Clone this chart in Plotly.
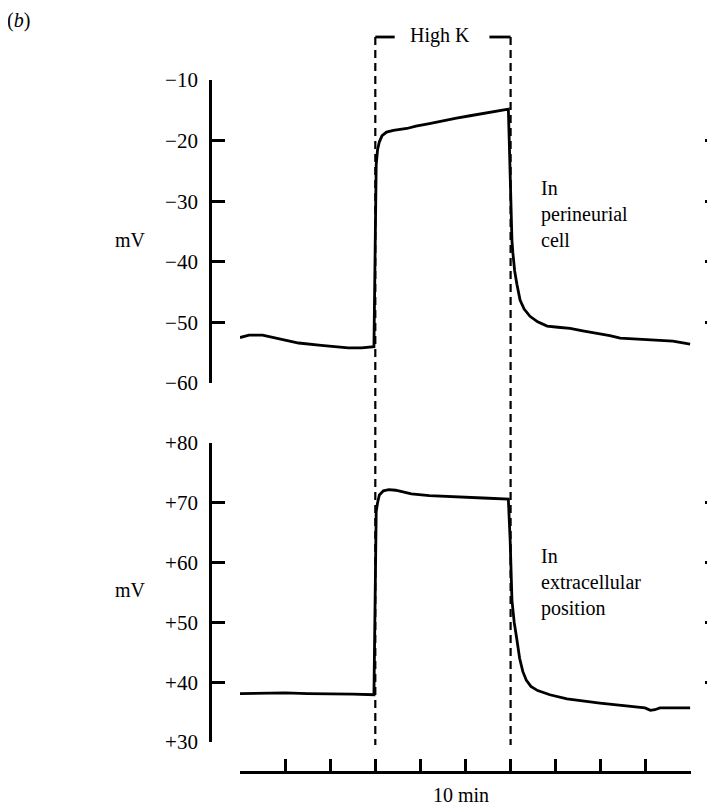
import plotly.graph_objects as go

# ---------------- data (time in min, potential in mV) ----------------
t_cell = [0, 0.2, 0.5, 0.75, 1.0, 1.3, 1.8, 2.4, 2.7, 2.97,
          3.02, 3.05, 3.09, 3.15, 3.25, 3.4, 3.7, 3.9, 4.2, 4.5, 4.8, 5.1, 5.4, 5.7, 5.95,
          5.97, 6.0, 6.03, 6.05, 6.09, 6.14, 6.21, 6.3, 6.43, 6.6, 6.81, 7.05, 7.32, 7.6,
          7.92, 8.2, 8.43, 8.7, 9.02, 9.3, 9.6, 9.98]
v_cell = [-52.5, -52.1, -52.1, -52.5, -53.0, -53.4, -53.8, -54.2, -54.2, -54.0,
          -24.0, -21.5, -20.2, -19.2, -18.6, -18.3, -18.0, -17.6, -17.2, -16.7, -16.3, -15.9, -15.5, -15.1, -14.8,
          -20.0, -30.0, -36.5, -38.5, -41.5, -43.7, -46.3, -47.8, -49.0, -49.9, -50.6, -50.8, -51.0, -51.4,
          -51.8, -52.2, -52.6, -52.7, -52.8, -52.9, -53.1, -53.6]

t_extra = [0, 0.5, 1.0, 1.5, 2.0, 2.5, 2.97,
           3.02, 3.05, 3.09, 3.18, 3.3, 3.45, 3.6, 3.8, 4.2, 4.66, 5.0, 5.39, 5.95,
           5.99, 6.03, 6.08, 6.14, 6.2, 6.27, 6.35, 6.45, 6.6, 6.87, 7.25, 7.98, 8.65, 8.98,
           9.1, 9.2, 9.31, 9.98]
v_extra = [38.1, 38.2, 38.2, 38.1, 38.1, 38.0, 37.9,
           68.5, 70.0, 71.3, 72.0, 72.2, 72.1, 71.8, 71.5, 71.2, 71.0, 70.9, 70.8, 70.6,
           63.8, 53.7, 50.0, 47.1, 44.0, 41.8, 40.3, 39.3, 38.6, 37.9, 37.2, 36.5, 36.0, 35.7,
           35.3, 35.4, 35.7, 35.7]

top_ticks = [-60, -50, -40, -30, -20, -10]
top_ticktext = ["\u221260", "\u221250", "\u221240", "\u221230", "\u221220", "\u221210"]
bot_ticks = [30, 40, 50, 60, 70, 80]
bot_ticktext = ["+30", "+40", "+50", "+60", "+70", "+80"]
time_ticks = list(range(0, 11))
high_k_start, high_k_end = 3, 6

label_cell = "In<br>perineurial<br>cell"
label_extra = "In<br>extracellular<br>position"

# ---------------- figure ----------------
W, H = 715, 806
OFF = 8  # default page body margin
FONT = "Liberation Serif, Times New Roman, serif"


def px(x):
    return (x - OFF) / W


def py(y):
    return 1 - (y - OFF) / H


LW = 2.8

fig = go.Figure()
fig.add_trace(go.Scatter(x=t_cell, y=v_cell, mode="lines", xaxis="x", yaxis="y",
                         line=dict(color="black", width=LW), showlegend=False, hoverinfo="skip"))
fig.add_trace(go.Scatter(x=t_extra, y=v_extra, mode="lines", xaxis="x", yaxis="y2",
                         line=dict(color="black", width=LW), showlegend=False, hoverinfo="skip"))
# invisible companions so the right-hand tick scales are drawn
fig.add_trace(go.Scatter(x=t_cell, y=v_cell, mode="lines", xaxis="x", yaxis="y3",
                         line=dict(color="rgba(0,0,0,0)", width=0), showlegend=False, hoverinfo="skip"))
fig.add_trace(go.Scatter(x=t_extra, y=v_extra, mode="lines", xaxis="x", yaxis="y4",
                         line=dict(color="rgba(0,0,0,0)", width=0), showlegend=False, hoverinfo="skip"))

yax_common = dict(showline=True, linecolor="black", linewidth=LW, ticks="inside", ticklen=13,
                  tickwidth=LW, tickcolor="black", showgrid=False, zeroline=False,
                  tickfont=dict(family=FONT, size=21, color="black"), anchor="free",
                  position=px(210), ticklabelstandoff=7, automargin=False, fixedrange=True)
yright_common = dict(showline=False, ticks="inside", ticklen=10, tickwidth=LW, tickcolor="black",
                     showgrid=False, zeroline=False, showticklabels=False, anchor="free",
                     side="right", position=px(715), automargin=False, fixedrange=True)

fig.update_layout(
    width=W, height=H,
    margin=dict(l=0, r=0, t=0, b=0, pad=0, autoexpand=False),
    paper_bgcolor="white", plot_bgcolor="rgba(0,0,0,0)",
    font=dict(family=FONT, size=20, color="black"),
    xaxis=dict(domain=[px(240), px(691)], range=[0, 10], anchor="free", position=py(772),
               showline=True, linecolor="black", linewidth=LW, ticks="inside", ticklen=12,
               tickwidth=LW, tickcolor="black", tickvals=time_ticks, showticklabels=False,
               showgrid=False, zeroline=False, automargin=False, fixedrange=True),
    yaxis=dict(domain=[py(383), py(80)], range=[-60, -10], tickvals=top_ticks,
               ticktext=top_ticktext, **yax_common),
    yaxis2=dict(domain=[py(742), py(443)], range=[30, 80], tickvals=bot_ticks,
                ticktext=bot_ticktext, **yax_common),
    yaxis3=dict(overlaying="y", range=[-60, -10], tickvals=top_ticks, **yright_common),
    yaxis4=dict(overlaying="y2", range=[30, 80], tickvals=bot_ticks, **yright_common),
)

# dashed markers for the High K application and bracket
for tx in (high_k_start, high_k_end):
    fig.add_shape(type="line", xref="x", yref="paper", x0=tx, x1=tx, y0=py(37), y1=py(745),
                  line=dict(color="black", width=2.2, dash="8px,5px"), layer="below")
fig.add_shape(type="line", xref="x", yref="paper", x0=high_k_start, x1=high_k_start + 0.43,
              y0=py(37), y1=py(37), line=dict(color="black", width=LW))
fig.add_shape(type="line", xref="x", yref="paper", x0=high_k_end - 0.47, x1=high_k_end,
              y0=py(37), y1=py(37), line=dict(color="black", width=LW))

ann = dict(showarrow=False, xref="paper", yref="paper", font=dict(family=FONT, size=20, color="black"))
fig.add_annotation(text="(<i>b</i>)", x=px(18), y=1, xanchor="center", yanchor="top",
                   borderpad=0, **ann)
fig.add_annotation(text="High K", x=px(440), y=py(36), xanchor="center", yanchor="middle", **ann)
fig.add_annotation(text="mV", x=px(131), y=py(240), xanchor="center", yanchor="middle", **ann)
fig.add_annotation(text="mV", x=px(131), y=py(590), xanchor="center", yanchor="middle", **ann)
fig.add_annotation(text=label_cell, x=px(539), y=py(214), xanchor="left", yanchor="middle",
                   align="left", **ann)
fig.add_annotation(text=label_extra, x=px(539), y=py(582), xanchor="left", yanchor="middle",
                   align="left", **ann)
fig.add_annotation(text="10 min", x=px(461), y=py(795), xanchor="center", yanchor="middle", **ann)

fig.write_html("out.html")
